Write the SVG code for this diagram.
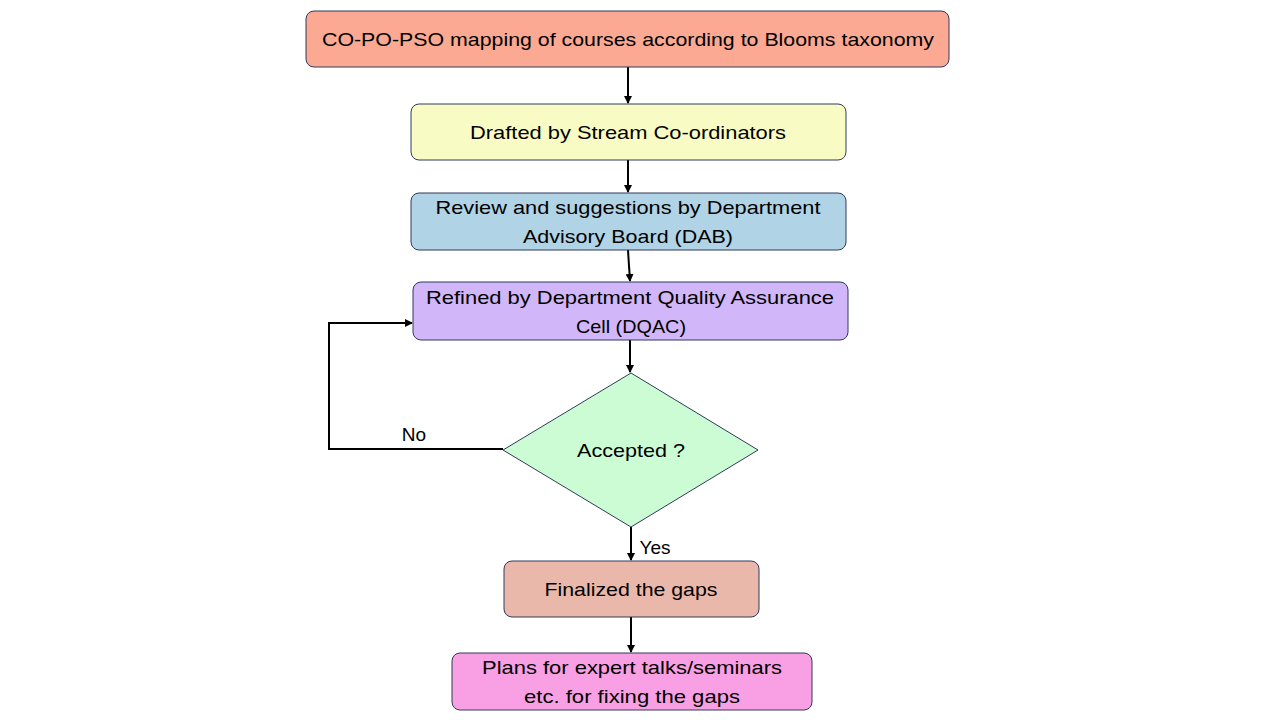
<svg xmlns="http://www.w3.org/2000/svg" width="1280" height="720" viewBox="0 0 1280 720">
<defs>
<marker id="ah" markerWidth="8" markerHeight="8" refX="7" refY="4" orient="auto" markerUnits="userSpaceOnUse">
<path d="M0,0 L8,4 L0,8 Z" fill="#000"/>
</marker>
<style>
.box{stroke:#2F3B5C;stroke-width:1}
.t{font-family:"Liberation Sans",Arial,sans-serif;font-size:19px;fill:#000;text-anchor:middle}
.c{fill:none;stroke:#000;stroke-width:2;marker-end:url(#ah)}
.l{fill:none;stroke:#000;stroke-width:2}
</style>
</defs>
<rect width="1280" height="720" fill="#fff"/>
<g id="connectors">
<line class="c" x1="628" y1="67" x2="628" y2="103"/>
<line class="c" x1="628" y1="160" x2="628" y2="192"/>
<line class="c" x1="628" y1="250" x2="630" y2="281"/>
<line class="c" x1="630" y1="340" x2="630" y2="372"/>
<line class="c" x1="631" y1="527" x2="631" y2="560"/>
<line class="c" x1="631" y1="617" x2="631" y2="652"/>
<polyline class="c" points="503,449 329,449 329,323 412,323"/>
<text class="t" x="414" y="441">No</text>
<text class="t" x="655" y="554">Yes</text>
</g>
<g id="n1">
<rect class="box" x="306" y="11" width="643" height="56" rx="8" fill="#FBA993"/>
<text class="t" x="628" y="46" textLength="612" lengthAdjust="spacingAndGlyphs">CO-PO-PSO mapping of courses according to Blooms taxonomy</text>
</g>
<g id="n2">
<rect class="box" x="411" y="104" width="435" height="56" rx="8" fill="#F8FCC4"/>
<text class="t" x="628" y="139" textLength="316" lengthAdjust="spacingAndGlyphs">Drafted by Stream Co-ordinators</text>
</g>
<g id="n3">
<rect class="box" x="411" y="193" width="435" height="57" rx="8" fill="#B1D3E6"/>
<text class="t" x="628" y="214" textLength="385" lengthAdjust="spacingAndGlyphs">Review and suggestions by Department</text>
<text class="t" x="628" y="243" textLength="210" lengthAdjust="spacingAndGlyphs">Advisory Board (DAB)</text>
</g>
<g id="n4">
<rect class="box" x="413" y="282" width="435" height="58" rx="8" fill="#D1B7F9"/>
<text class="t" x="630" y="304" textLength="408" lengthAdjust="spacingAndGlyphs">Refined by Department Quality Assurance</text>
<text class="t" x="631" y="333" textLength="110" lengthAdjust="spacingAndGlyphs">Cell (DQAC)</text>
</g>
<g id="n5">
<polygon class="box" points="631,373 758,450 631,527 503,450" fill="#CCFCD4"/>
<text class="t" x="631" y="457" textLength="108" lengthAdjust="spacingAndGlyphs">Accepted ?</text>
</g>
<g id="n6">
<rect class="box" x="504" y="561" width="255" height="56" rx="8" fill="#EAB8AB"/>
<text class="t" x="631" y="596" textLength="173" lengthAdjust="spacingAndGlyphs">Finalized the gaps</text>
</g>
<g id="n7">
<rect class="box" x="452" y="653" width="360" height="57" rx="8" fill="#F9A0E5"/>
<text class="t" x="632" y="674" textLength="300" lengthAdjust="spacingAndGlyphs">Plans for expert talks/seminars</text>
<text class="t" x="632" y="703" textLength="216" lengthAdjust="spacingAndGlyphs">etc. for fixing the gaps</text>
</g>
</svg>
